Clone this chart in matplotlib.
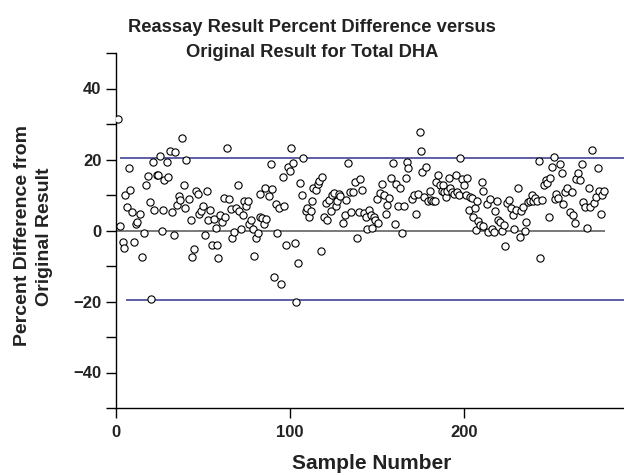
import matplotlib
matplotlib.use("Agg")
import matplotlib.pyplot as plt
from matplotlib.ticker import MultipleLocator

plt.rcParams['font.family'] = ['Liberation Sans', 'DejaVu Sans']

sample = [1.3, 2.5, 3.8, 4.4, 5.2, 6.1, 7.3, 8.2, 9.0, 10.2, 11.3, 12.1, 14.0, 14.9, 16.3, 17.0, 18.2, 19.3, 20.1, 21.3,
          22.0, 23.6, 24.3, 25.1, 26.2, 27.2, 27.8, 29.1, 30.1, 30.8, 32.0, 33.1, 34.1, 34.9, 36.0, 37.0, 38.1, 38.9, 39.7, 40.2,
          42.0, 43.1, 45.0, 43.9, 45.8, 46.9, 47.7, 48.9, 50.2, 51.1, 52.1, 53.1, 54.0, 55.0, 56.1, 57.3, 58.0, 58.8, 59.8, 60.7,
          61.9, 62.6, 63.8, 64.9, 65.9, 66.9, 68.0, 69.0, 69.9, 70.7, 71.8, 73.0, 73.7, 74.7, 75.7, 76.6, 77.6, 78.6, 79.5, 80.5,
          81.4, 82.6, 82.8,
          83.7, 84.9, 86.4, 85.6, 87.9, 88.9, 89.8, 90.8, 91.8, 92.7, 93.7, 94.6, 95.9, 96.7, 97.9, 98.7, 99.8, 100.8, 101.7, 102.7,
          103.6, 104.6, 105.7, 106.7, 107.7, 109.0, 109.9, 110.9, 111.9, 112.8, 113.4, 114.8, 115.9, 116.7, 117.6, 118.6, 119.7, 120.5,
          121.5, 122.4, 123.4, 124.3, 125.1,
          126.6, 127.0, 128.2, 128.9, 130.5, 131.4, 132.4, 133.3, 134.3, 135.2, 136.2, 137.1, 138.5, 139.7, 140.4, 141.6, 142.5, 143.5,
          144.3, 145.4, 146.6, 147.3, 148.1, 148.9, 150.0, 150.8, 151.9, 153.1, 153.8, 155.0, 155.9, 156.9, 158.2, 159.2, 160.2, 161.1,
          162.2, 163.4, 164.4, 165.5, 166.5, 167.2, 168.0,
          170.1, 171.4, 172.6, 173.4, 174.5, 175.3, 176.0, 177.2, 178.3, 179.1, 180.3, 181.0, 182.2, 183.3, 184.1, 185.2, 186.4, 187.2,
          187.9, 188.7, 189.5, 190.2, 191.2, 192.1, 193.1, 194.1, 195.2, 195.9, 197.1, 197.9, 199.0, 199.8, 200.9, 201.7, 202.9, 203.6,
          204.6, 205.2, 206.3, 207.5, 208.2, 207.1, 209.4, 210.3, 210.9,
          210.7, 213.2, 213.9, 215.1, 215.9, 217.0, 217.8, 218.9, 219.7, 220.9, 221.8, 222.8, 223.7, 224.7, 225.9, 227.0, 228.0, 228.9,
          230.1, 230.8, 232.0, 232.8, 233.9, 235.1, 235.8, 236.6, 237.7, 238.9, 239.8, 241.0, 241.9, 243.1, 243.8, 244.8, 245.8, 246.9,
          247.7, 248.7, 249.6, 250.4, 251.5, 252.2, 252.9,
          255.0, 256.1, 254.2, 256.9, 258.0, 259.3, 260.7, 261.9, 262.6, 263.8, 264.5, 265.7, 266.8, 267.9, 268.7, 269.5, 270.7, 271.8,
          272.6, 273.7, 274.7, 275.7, 276.8, 277.6, 278.7, 279.4, 280.6]

pct_diff = [31.5, 1.3, -3.3, -4.8, 9.9, 6.5, 17.6, 11.5, 5.2, -3.2, 1.8, 2.5, 4.6, -7.5, -0.6, 12.9, 15.4, 7.9, -19.3, 19.4,
            5.8, 15.5, 15.5, 20.9, 0.0, 5.7, 14.3, 19.2, 15.2, 22.3, 5.2, -1.4, 22.0, 7.2, 9.6, 8.7, 26.0, 12.9, 6.3, 19.8,
            8.8, 3.0, -5.3, -7.5, 11.2, 10.2, 4.6, 5.4, 6.8, -1.2, 11.2, 3.0, 5.8, -4.0, 3.3, 0.8, -4.0, -7.8, 4.4, 2.3,
            9.1, 3.9, 23.2, 8.9, 6.1, -2.2, -0.3, 6.3, 12.9, 5.4, 0.5, 4.4, 8.4, 7.0, 8.2, 1.8, 3.0, 0.5, -7.3, -2.2,
            -0.8, 10.2, 3.9,
            3.5, 1.8, 3.3, 11.9, 9.6, 18.8, 11.7, -13.0, 7.4, -0.6, 6.3, -15.0, 15.2, 6.8, -4.0, 18.0, 16.8, 23.2, 19.0, -3.6,
            -20.2, -9.2, 13.5, 10.0, 20.4, 5.4, 6.3, 3.9, 5.5, 8.2, 12.1, 11.5, 13.1, 14.0, -5.7, 15.2, 3.9, 7.7,
            3.0, 8.6, 5.4, 9.9, 10.5,
            6.8, 8.4, 10.2, 9.6, 2.1, 4.4, 8.6, 19.0, 10.8, 5.2, 10.8, 13.6, -2.0, 5.2, 14.6, 11.5, 4.9, 3.9,
            0.5, 5.8, 4.4, 0.7, 3.7, 3.0, 8.9, 2.1, 10.5, 13.1, 10.0, 4.6, 7.2, 9.1, 14.9, 19.0, 1.8, 13.1,
            7.0, 11.9, -0.6, 7.0, 14.9, 19.2, 17.6,
            8.9, 9.9, 4.6, 10.2, 27.7, 22.3, 16.4, 9.3, 17.9, 8.2, 11.0, 8.6, 8.2, 8.4, 13.6, 15.7, 12.7, 11.2,
            12.9, 10.8, 9.3, 11.2, 14.9, 11.9, 10.8, 10.2, 15.5, 10.8, 10.0, 20.4, 14.6, 12.7, 10.0, 14.7, 5.8, 9.3,
            9.1, 3.9, 6.3, 8.4, 2.7, 0.2, 1.6, 13.8, 11.0,
            1.4, 7.4, -0.3, 8.9, 0.5, -0.3, 5.5, 8.2, 3.0, 2.3, -0.1, 1.6, -4.5, 7.7, 8.6, 6.3, 4.4, 0.5,
            5.8, 12.1, -1.7, 5.5, 6.5, -0.1, 2.5, 8.0, 8.4, 9.9, 8.4, 9.1, 8.2, 19.6, -7.8, 8.6, 12.9, 14.3,
            13.4, 3.9, 14.9, 18.0, 20.6, 8.9, 10.2,
            18.7, 16.2, 9.1, 7.4, 10.8, 12.1, 5.2, 10.8, 4.4, 2.1, 14.6, 16.2, 14.3, 18.6, 8.0, 6.5, 0.7, 12.1,
            6.5, 22.7, 7.7, 9.3, 17.6, 11.2, 4.6, 9.9, 11.2]

upper_limit = 20.4
lower_limit = -19.6
x_ticks = [0, 100, 200]
y_ticks = [-40, -20, 0, 20, 40]

title_lines = ['Reassay Result Percent Difference versus', 'Original Result for Total DHA']
ylabel_lines = ['Percent Difference from', 'Original Result']
xlabel = 'Sample Number'

W, H = 624, 475
fig = plt.figure(figsize=(W / 100, H / 100), dpi=100)
ax = fig.add_axes([116 / W, 1 - 408 / H, (W - 116) / W, (408 - 53) / H])

ax.hlines(upper_limit, 2.5, 295, color='#33338f', lw=1.1, zorder=1)
ax.hlines(lower_limit, 5.5, 295, color='#33338f', lw=1.1, zorder=1)
ax.hlines(0, 0, 281, color='#555555', lw=1.1, zorder=1)

ax.plot(sample, pct_diff, linestyle='none', marker='o', markersize=5.2,
        markerfacecolor='white', markeredgecolor='black', markeredgewidth=0.8, zorder=3)

ax.set_xlim(0, 292)
ax.set_ylim(-50, 50)
ax.set_xticks(x_ticks)
ax.set_yticks(y_ticks)
ax.yaxis.set_minor_locator(MultipleLocator(10))

for s in ['top', 'right']:
    ax.spines[s].set_visible(False)
for s in ['left', 'bottom']:
    ax.spines[s].set_linewidth(1.0)
    ax.spines[s].set_color('black')

ax.tick_params(axis='y', which='both', direction='out', length=7.5, width=1.0, labelsize=12, pad=3)
ax.tick_params(axis='x', which='both', direction='out', length=7, width=1.0, labelsize=12, pad=5)
for lbl in ax.get_xticklabels() + ax.get_yticklabels():
    lbl.set_fontweight('bold')
    lbl.set_color('#222222')

txt = dict(fontweight='bold', color='#222222')
fig.text(312 / W, 1 - 32 / H, title_lines[0], ha='center', va='baseline', fontsize=13.2, **txt)
fig.text(312 / W, 1 - 57 / H, title_lines[1], ha='center', va='baseline', fontsize=13.2, **txt)
fig.text(372 / W, 1 - 469 / H, xlabel, ha='center', va='baseline', fontsize=15, **txt)
fig.text(23 / W, 1 - 235 / H, ylabel_lines[0], ha='center', va='center', rotation=90, fontsize=14, **txt)
fig.text(45 / W, 1 - 237 / H, ylabel_lines[1], ha='center', va='center', rotation=90, fontsize=14, **txt)

fig.savefig('out.png', dpi=100)
